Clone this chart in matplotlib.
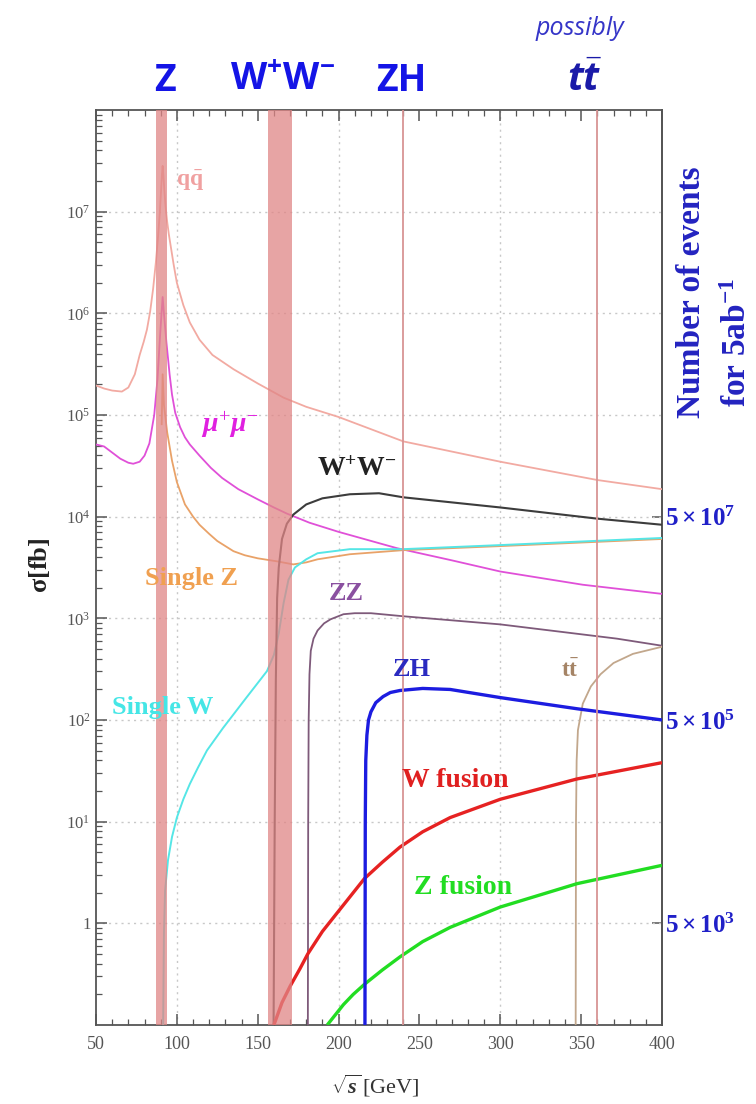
import numpy as np
import matplotlib
matplotlib.use("Agg")
import matplotlib.pyplot as plt
from matplotlib.ticker import MultipleLocator, LogLocator, NullFormatter

plt.rcParams['mathtext.fontset'] = 'custom'
plt.rcParams['mathtext.rm'] = 'Liberation Serif'
plt.rcParams['mathtext.it'] = 'Liberation Serif:italic:bold'
plt.rcParams['mathtext.bf'] = 'Liberation Serif:bold'
plt.rcParams['mathtext.sf'] = 'Open Sans:bold'
plt.rcParams['mathtext.cal'] = 'Open Sans:italic:bold'
plt.rcParams['font.family'] = ['Liberation Serif', 'DejaVu Serif']

# ---------------- data (sqrt(s) in GeV, log10 of sigma in fb) ----------------
qq_x = [50, 55, 60, 66, 70, 74, 77, 79.5, 81.5, 83.5, 85.3, 87, 88.4, 89.5, 90.2, 90.7, 91.2,
        91.7, 92.3, 93, 94, 95, 96, 98, 100, 104, 108, 114, 122, 135, 150, 166, 180, 200,
        220, 240, 270, 300, 330, 360, 400]
qq_lg = [5.29, 5.26, 5.24, 5.23, 5.27, 5.40, 5.59, 5.72, 5.84, 6.02, 6.24, 6.50, 6.76, 7.00,
         7.20, 7.35, 7.45, 7.35, 7.20, 7.05, 6.90, 6.78, 6.68, 6.48, 6.30, 6.08, 5.91, 5.74,
         5.59, 5.45, 5.31, 5.17, 5.08, 4.98, 4.86, 4.74, 4.64, 4.54, 4.45, 4.36, 4.27]

mumu_x = [50, 55, 60, 65, 70, 73, 77, 80, 83, 86, 88, 89.5, 90.5, 91.2, 92, 93.5, 95.5, 97,
          99, 102, 105, 108, 114, 121, 128, 138, 150, 160, 168, 182, 200, 218, 236, 270, 300,
          351, 400]
mumu_lg = [4.71, 4.69, 4.63, 4.57, 4.53, 4.52, 4.54, 4.60, 4.72, 5.00, 5.35, 5.75, 6.00, 6.16,
           6.00, 5.72, 5.40, 5.20, 5.02, 4.88, 4.78, 4.71, 4.60, 4.48, 4.38, 4.27, 4.17, 4.09,
           4.03, 3.94, 3.85, 3.77, 3.69, 3.57, 3.46, 3.33, 3.24]

singleZ_x = [90.6, 91.2, 92, 94, 97, 100, 105, 110, 114, 120, 125, 135, 142, 150, 162, 172,
             180, 187, 207, 240, 300, 400]
singleZ_lg = [4.90, 5.40, 5.10, 4.83, 4.55, 4.34, 4.12, 4.00, 3.92, 3.83, 3.76, 3.66, 3.62,
              3.59, 3.56, 3.53, 3.55, 3.58, 3.63, 3.67, 3.71, 3.78]

singleW_x = [91.5, 92, 92.7, 94.5, 97, 100, 104, 108, 113, 118.6, 128.5, 143, 155.7, 160,
             163, 166, 169, 173, 180, 187, 207, 240, 300, 400]
singleW_lg = [-1.0, -0.1, 0.32, 0.62, 0.85, 1.04, 1.22, 1.37, 1.53, 1.70, 1.92, 2.22, 2.48,
              2.64, 2.85, 3.15, 3.38, 3.50, 3.58, 3.64, 3.68, 3.68, 3.72, 3.79]

WW_x = [159.8, 160.5, 161.2, 162, 163, 165, 168, 172, 180, 190, 207, 225, 240, 300, 360, 400]
WW_lg = [-1.0, 1.0, 2.4, 3.2, 3.5, 3.78, 3.93, 4.02, 4.12, 4.18, 4.22, 4.23, 4.19, 4.09,
         3.98, 3.92]

ZZ_x = [181.0, 181.2, 181.5, 182.0, 182.8, 184.5, 187, 191, 195, 203, 210, 220, 240, 300,
        372, 400]
ZZ_lg = [-1.0, 1.0, 2.0, 2.45, 2.68, 2.80, 2.88, 2.95, 2.99, 3.04, 3.05, 3.05, 3.02, 2.94,
         2.80, 2.73]

ZH_x = [216.3, 216.5, 216.8, 217.5, 218.5, 220, 223, 227.5, 232, 238, 252, 269, 300, 347.5, 400]
ZH_lg = [-1.0, 1.0, 1.6, 1.85, 2.0, 2.08, 2.17, 2.23, 2.27, 2.29, 2.31, 2.30, 2.22, 2.11, 2.0]

Wfus_x = [160, 165, 170, 176, 181, 190, 200, 207, 216, 227, 238, 252, 269, 300, 347.5, 400]
Wfus_lg = [-1.0, -0.78, -0.62, -0.45, -0.30, -0.08, 0.12, 0.26, 0.44, 0.60, 0.75, 0.90,
           1.04, 1.22, 1.42, 1.58]

Zfus_x = [193, 198, 203, 209, 216, 227, 238, 252, 269, 300, 347.5, 400]
Zfus_lg = [-1.0, -0.90, -0.80, -0.70, -0.60, -0.46, -0.33, -0.18, -0.04, 0.16, 0.39, 0.57]

tt_x = [346.6, 346.8, 347.2, 348, 351, 356, 362, 370, 382, 400]
tt_lg = [-1.0, 1.0, 1.6, 1.9, 2.16, 2.33, 2.45, 2.56, 2.65, 2.72]

Z_band = (87.1, 93.9)
W_band = (156.6, 171.4)
run_lines = [240, 360]

y_tick_vals = [1, 1e1, 1e2, 1e3, 1e4, 1e5, 1e6, 1e7]
y_tick_labels = ['1', r'$\mathrm{10^{1}}$', r'$\mathrm{10^{2}}$', r'$\mathrm{10^{3}}$',
                 r'$\mathrm{10^{4}}$', r'$\mathrm{10^{5}}$', r'$\mathrm{10^{6}}$',
                 r'$\mathrm{10^{7}}$']
events_ticks = [5e3, 5e5, 5e7]
events_labels = [r'$\mathbf{5\times10^{3}}$', r'$\mathbf{5\times10^{5}}$',
                 r'$\mathbf{5\times10^{7}}$']
luminosity_fb = 5000.0

# ---------------- figure ----------------
fig = plt.figure(figsize=(7.56, 11.04), dpi=100)
ax = fig.add_axes([0.127, 0.0716, 0.7487, 0.8288])
ax.set_yscale('log')
ax.set_xlim(50, 400)
ax.set_ylim(0.1, 1e8)

def p(x, lg):
    return np.asarray(x), np.power(10.0, np.asarray(lg))

curves = [
    (qq_x, qq_lg, '#f2aaa2', 1.3),
    (mumu_x, mumu_lg, '#e050d8', 1.3),
    (singleZ_x, singleZ_lg, '#e9a268', 1.3),
    (singleW_x, singleW_lg, '#55e6e6', 1.4),
    (WW_x, WW_lg, '#3c3c3c', 1.5),
    (ZZ_x, ZZ_lg, '#7e5a7a', 1.3),
    (tt_x, tt_lg, '#c2a78c', 1.3),
    (Zfus_x, Zfus_lg, '#22dd22', 2.4),
    (Wfus_x, Wfus_lg, '#e62222', 2.4),
    (ZH_x, ZH_lg, '#1c1ce0', 2.4),
]
for xs, lg, c, lw in curves:
    X, Y = p(xs, lg)
    ax.plot(X, Y, color=c, lw=lw, zorder=3, solid_capstyle='butt', solid_joinstyle='round')

# grid
for gx in [100, 200, 300]:
    ax.axvline(gx, color='#c8c8c8', lw=1.0, ls=(0, (1.5, 3)), zorder=1)
for gy in y_tick_vals:
    ax.axhline(gy, color='#c8c8c8', lw=1.0, ls=(0, (1.5, 3)), zorder=1)

# bands and run lines
ax.axvspan(*Z_band, color='#e08686', alpha=0.75, lw=0, zorder=4)
ax.axvspan(*W_band, color='#e08686', alpha=0.75, lw=0, zorder=4)
for rx in run_lines:
    ax.axvline(rx, color='#d89494', lw=1.3, zorder=4)

# ticks
ax.xaxis.set_major_locator(MultipleLocator(50))
ax.xaxis.set_minor_locator(MultipleLocator(10))
ax.set_yticks(y_tick_vals)
ax.set_yticklabels(y_tick_labels)
ax.yaxis.set_minor_locator(LogLocator(base=10, subs=np.arange(2, 10)))
ax.yaxis.set_minor_formatter(NullFormatter())
ax.tick_params(which='both', direction='in', top=True, right=False, colors='#555555',
               labelcolor='#555555')
ax.tick_params(which='major', length=8, width=1.1)
ax.tick_params(which='minor', length=4, width=0.9)
ax.tick_params(axis='x', labelsize=13, pad=8)
ax.tick_params(axis='y', labelsize=12, pad=4)
for sp in ax.spines.values():
    sp.set_color('#555555')
    sp.set_linewidth(1.3)

# secondary axis: number of events
sec = ax.secondary_yaxis('right', functions=(lambda s: s * luminosity_fb,
                                             lambda n: n / luminosity_fb))
sec.set_yticks(events_ticks)
sec.set_yticklabels(events_labels)
sec.yaxis.set_minor_locator(matplotlib.ticker.NullLocator())
sec.tick_params(direction='in', length=7, width=1.1, colors='#555555', labelcolor='#2020c8',
                labelsize=18, pad=2)
sec.spines['right'].set_color('#555555')
sec.spines['right'].set_linewidth(1.3)

# axis labels
fig.text(39 / 756, 1 - 565 / 1104, r'$\mathbf{\sigma[fb]}$', rotation=90, fontsize=19,
         color='#222222', ha='center', va='center')
fig.text(375 / 756, 1 - 1086 / 1104, r'$\sqrt{s}\,$[GeV]', fontsize=16, color='#333333',
         ha='center', va='center')
fig.text(0.915, 0.735, 'Number of events', rotation=90, fontsize=24, fontweight='bold',
         color='#2323c0', ha='center', va='center')
fig.text(0.976, 0.69, r'$\mathbf{for\ 5ab^{-1}}$', rotation=90, fontsize=24,
         color='#2323c0', ha='center', va='center')

# curve labels
ax.text(108, 2.0e7, r'$\mathbf{q\bar{q}}$', color='#f0a0a0', fontsize=17, ha='center', va='center', zorder=5)
ax.text(133, 10**4.90, r'$\mu^{+}\mu^{-}$', color='#e020e0', fontsize=20, ha='center', va='center', zorder=5)
ax.text(211, 10**4.46, r'$\mathbf{W^{+}W^{-}}$', color='#222222', fontsize=20, ha='center', va='center', zorder=5)
ax.text(109, 10**3.39, 'Single Z', color='#f0a050', fontsize=19, fontweight='bold', ha='center', va='center', zorder=5)
ax.text(204.6, 10**3.24, 'ZZ', color='#8a50a0', fontsize=19, fontweight='bold', ha='center', va='center', zorder=5)
ax.text(91.4, 10**2.12, 'Single W', color='#45e6e6', fontsize=19, fontweight='bold', ha='center', va='center', zorder=5)
ax.text(245.4, 10**2.5, 'ZH', color='#2a2ac0', fontsize=19, fontweight='bold', ha='center', va='center', zorder=5)
ax.text(343, 10**2.48, r'$\mathbf{t\bar{t}}$', color='#a58466', fontsize=17, ha='center', va='center', zorder=5)
ax.text(272, 10**1.40, 'W fusion', color='#e02020', fontsize=20, fontweight='bold', ha='center', va='center', zorder=5)
ax.text(277, 10**0.35, 'Z fusion', color='#22dd22', fontsize=20, fontweight='bold', ha='center', va='center', zorder=5)

# top labels
tr = ax.get_xaxis_transform()
top_kw = dict(transform=tr, ha='center', va='center', color='#1414e6', clip_on=False)
ax.text(92.7, 1.032, 'Z', fontsize=27, fontweight='bold', family='Open Sans', **top_kw)
ax.text(165.6, 1.032, r'$\mathsf{W^{+}W^{-}}$', fontsize=27, **top_kw)
ax.text(238.6, 1.032, 'ZH', fontsize=27, fontweight='bold', family='Open Sans', **top_kw)
ax.text(351.8, 1.031, r'$\mathcal{t\bar{t}}$', fontsize=28, transform=tr, ha='center', va='center',
        color='#1a1aa8', clip_on=False)
ax.text(349.3, 1.089, 'possibly', fontsize=18, style='italic', family='Open Sans',
        transform=tr, ha='center', va='center', color='#3535c8', clip_on=False)

fig.savefig('out.png', dpi=100)
